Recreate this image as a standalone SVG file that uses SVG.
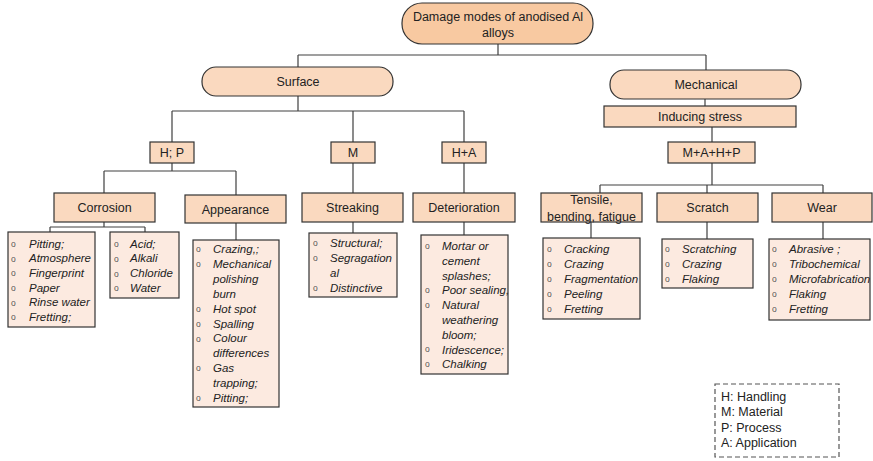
<svg xmlns="http://www.w3.org/2000/svg" width="873" height="461" viewBox="0 0 873 461">
<style>
.root{fill:#F8C9A1;stroke:#333;stroke-width:1.2}
.node{fill:#FAD9BF;stroke:#333;stroke-width:1.2}
.list{fill:#FCEAE0;stroke:#333;stroke-width:1.2}
.lbl{font-family:"Liberation Sans",Arial,sans-serif;font-size:12.5px;fill:#222;text-anchor:middle}
.it{font-family:"Liberation Sans",Arial,sans-serif;font-size:11.5px;font-style:italic;fill:#222}
.b{font-family:"Liberation Sans",Arial,sans-serif;font-size:8.5px;fill:#555}
.leg{font-family:"Liberation Sans",Arial,sans-serif;font-size:12.5px;fill:#222}
.con{fill:none;stroke:#404040;stroke-width:1.2}
</style>
<rect width="873" height="461" fill="#fff"/>
<g id="connectors">
<path class="con" d="M498,44V55M298,55H706M298,55V67M706,55V70"/>
<path class="con" d="M705,99V106"/>
<path class="con" d="M298,96V111M172,111H464M172,111V142M353,111V142M464,111V142"/>
<path class="con" d="M712,127V142"/>
<path class="con" d="M172,163V171M104,171H236M104,171V193M236,171V195"/>
<path class="con" d="M353,163V193M464,163V193"/>
<path class="con" d="M712,163V185M600,185H823M600,185V193M707,185V193M823,185V193"/>
<path class="con" d="M104,222V227M50,227H145M50,227V232M145,227V232"/>
<path class="con" d="M236,223V240M353,222V233M464,222V235"/>
<path class="con" d="M591,222V238M707,222V239M823,222V239"/>
</g>
<g id="root"><rect class="root" x="402" y="3" width="191" height="41" rx="20"/>
<text class="lbl" x="498" y="20.5">Damage modes of anodised Al</text><text class="lbl" x="498" y="36.5">alloys</text></g>
<g id="surface"><rect class="node" x="202" y="67" width="191" height="29" rx="14"/><text class="lbl" x="298" y="86">Surface</text></g>
<g id="mechanical"><rect class="node" x="610" y="70" width="191" height="29" rx="14"/><text class="lbl" x="706" y="89">Mechanical</text></g>
<g id="inducing"><rect class="node" x="604" y="106" width="192" height="21"/><text class="lbl" x="700" y="121">Inducing stress</text></g>
<g id="hp"><rect class="node" x="150" y="142" width="44" height="21"/><text class="lbl" x="172" y="157">H; P</text></g>
<g id="m"><rect class="node" x="331" y="142" width="44" height="21"/><text class="lbl" x="353" y="157">M</text></g>
<g id="ha"><rect class="node" x="442" y="142" width="44" height="21"/><text class="lbl" x="464" y="157">H+A</text></g>
<g id="mahp"><rect class="node" x="668" y="142" width="87" height="21"/><text class="lbl" x="711.5" y="157">M+A+H+P</text></g>
<g id="corrosion"><rect class="node" x="54" y="193" width="101" height="29"/><text class="lbl" x="104.5" y="212">Corrosion</text></g>
<g id="appearance"><rect class="node" x="185" y="195" width="101" height="28"/><text class="lbl" x="235.5" y="214">Appearance</text></g>
<g id="streaking"><rect class="node" x="302" y="193" width="101" height="29"/><text class="lbl" x="352.5" y="212">Streaking</text></g>
<g id="deterioration"><rect class="node" x="413" y="193" width="102" height="29"/><text class="lbl" x="464" y="212">Deterioration</text></g>
<g id="tensile"><rect class="node" x="541" y="193" width="101" height="29"/><text class="lbl" x="591.5" y="203.5">Tensile,</text><text class="lbl" x="591.5" y="220.5">bending, fatigue</text></g>
<g id="scratch"><rect class="node" x="657" y="193" width="101" height="29"/><text class="lbl" x="707.5" y="212">Scratch</text></g>
<g id="wear"><rect class="node" x="772" y="193" width="100" height="29"/><text class="lbl" x="822" y="212">Wear</text></g>

<g id="list-corrosion-1"><rect class="list" x="8" y="232" width="87" height="95"/>
<g class="b"><text x="11" y="247">o</text><text x="11" y="262">o</text><text x="11" y="276">o</text><text x="11" y="291">o</text><text x="11" y="306">o</text><text x="11" y="320">o</text></g>
<text class="it" x="29" y="247.5">Pitting;</text><text class="it" x="29" y="262.2">Atmosphere</text><text class="it" x="29" y="276.9">Fingerprint</text><text class="it" x="29" y="291.6">Paper</text><text class="it" x="29" y="306.3">Rinse water</text><text class="it" x="29" y="321">Fretting;</text></g>

<g id="list-corrosion-2"><rect class="list" x="110" y="232" width="69" height="66"/>
<g class="b"><text x="114" y="247">o</text><text x="114" y="262">o</text><text x="114" y="277">o</text><text x="114" y="291">o</text></g>
<text class="it" x="130" y="247.5">Acid;</text><text class="it" x="130" y="262.4">Alkali</text><text class="it" x="130" y="277.3">Chloride</text><text class="it" x="130" y="292.2">Water</text></g>

<g id="list-appearance"><rect class="list" x="193" y="240" width="86" height="167"/>
<g class="b"><text x="196" y="252">o</text><text x="196" y="267">o</text><text x="196" y="312">o</text><text x="196" y="327">o</text><text x="196" y="342">o</text><text x="196" y="371">o</text><text x="196" y="401">o</text></g>
<text class="it" x="213" y="253">Crazing,;</text><text class="it" x="213" y="267.9">Mechanical</text><text class="it" x="213" y="282.8">polishing</text><text class="it" x="213" y="297.7">burn</text><text class="it" x="213" y="312.6">Hot spot</text><text class="it" x="213" y="327.5">Spalling</text><text class="it" x="213" y="342.4">Colour</text><text class="it" x="213" y="357.3">differences</text><text class="it" x="213" y="372.2">Gas</text><text class="it" x="213" y="387.1">trapping;</text><text class="it" x="213" y="402">Pitting;</text></g>

<g id="list-streaking"><rect class="list" x="309" y="233" width="88" height="64"/>
<g class="b"><text x="313" y="246">o</text><text x="313" y="261">o</text><text x="313" y="291">o</text></g>
<text class="it" x="330" y="247.3">Structural;</text><text class="it" x="330" y="262.3">Segragation</text><text class="it" x="330" y="277.3">al</text><text class="it" x="330" y="292.3">Distinctive</text></g>

<g id="list-deterioration"><rect class="list" x="421" y="235" width="87" height="139"/>
<g class="b"><text x="425" y="249">o</text><text x="425" y="293">o</text><text x="425" y="308">o</text><text x="425" y="352">o</text><text x="425" y="367">o</text></g>
<text class="it" x="442" y="250">Mortar or</text><text class="it" x="442" y="264.8">cement</text><text class="it" x="442" y="279.6">splashes;</text><text class="it" x="442" y="294.4">Poor sealing,</text><text class="it" x="442" y="309.2">Natural</text><text class="it" x="442" y="324">weathering</text><text class="it" x="442" y="338.8">bloom;</text><text class="it" x="442" y="353.6">Iridescence;</text><text class="it" x="442" y="368.4">Chalking</text></g>

<g id="list-tensile"><rect class="list" x="543" y="238" width="97" height="81"/>
<g class="b"><text x="547" y="252">o</text><text x="547" y="267">o</text><text x="547" y="282">o</text><text x="547" y="297">o</text><text x="547" y="312">o</text></g>
<text class="it" x="564" y="253.3">Cracking</text><text class="it" x="564" y="268.3">Crazing</text><text class="it" x="564" y="283.3">Fragmentation</text><text class="it" x="564" y="298.3">Peeling</text><text class="it" x="564" y="313.3">Fretting</text></g>

<g id="list-scratch"><rect class="list" x="662" y="239" width="91" height="49"/>
<g class="b"><text x="665" y="252">o</text><text x="665" y="267">o</text><text x="665" y="282">o</text></g>
<text class="it" x="682" y="253.3">Scratching</text><text class="it" x="682" y="268.3">Crazing</text><text class="it" x="682" y="283.3">Flaking</text></g>

<g id="list-wear"><rect class="list" x="769" y="239" width="101" height="81"/>
<g class="b"><text x="772" y="252">o</text><text x="772" y="267">o</text><text x="772" y="282">o</text><text x="772" y="297">o</text><text x="772" y="312">o</text></g>
<text class="it" x="789" y="253.3">Abrasive ;</text><text class="it" x="789" y="268.3">Tribochemical</text><text class="it" x="789" y="283.3">Microfabrication</text><text class="it" x="789" y="298.3">Flaking</text><text class="it" x="789" y="313.3">Fretting</text></g>

<g id="legend"><rect x="715" y="384" width="124" height="73" fill="#fff" stroke="#555" stroke-width="1.2" stroke-dasharray="5,3"/>
<text class="leg" x="721" y="400.5">H: Handling</text><text class="leg" x="721" y="416">M: Material</text><text class="leg" x="721" y="431.5">P: Process</text><text class="leg" x="721" y="447">A: Application</text></g>
</svg>
